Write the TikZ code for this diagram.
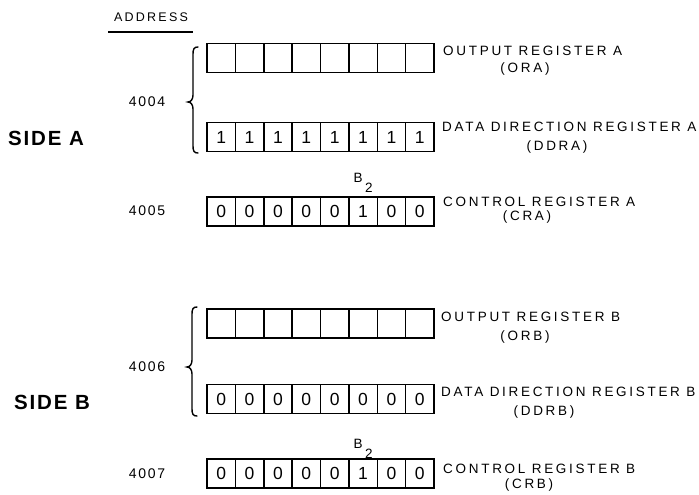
\documentclass[tikz,border=0pt]{standalone}
\usepackage{fontspec}
\setmainfont{Liberation Sans}
\newfontfamily\lblfont[LetterSpace=20]{Liberation Sans}
\newfontfamily\addrfont[LetterSpace=18]{Liberation Sans}
\newfontfamily\numfont[LetterSpace=12]{Liberation Sans}
\newfontfamily\cellfont{Liberation Sans}
\newfontfamily\sidefont[LetterSpace=9]{Liberation Sans}
\newcommand\regrow[3]{%
  \foreach \v [count=\i] in {#3} {
    \node[cell] (#1-\i) at ({221.2+(\i-1)*28.375}, #2) {\v};
  }%
}
\newcommand\bracepath[4]{% x-end, top, tip, bottom
  \draw[brace] (#1,#2) .. controls (#1-4,#2) and (#1-5,#2+2) .. (#1-5,#2+7)
    -- (#1-5,#3-7) .. controls (#1-5,#3-3) and (#1-7,#3) .. (#1-10,#3)
    .. controls (#1-7,#3) and (#1-5,#3+3) .. (#1-5,#3+7)
    -- (#1-5,#4-7) .. controls (#1-5,#4-2) and (#1-4,#4) .. (#1,#4);
}
\begin{document}
\begin{tikzpicture}[x=1pt,y=-1pt,
  cell/.style={draw, line width=1.5pt, minimum width=28.4pt, minimum height=29pt,
    inner sep=0pt, font=\cellfont\fontsize{17.5}{17.5}\selectfont},
  lbl/.style={anchor=west, inner sep=0pt, font=\lblfont\fontsize{13.5}{13.5}\selectfont},
  abbr/.style={inner sep=0pt, font=\lblfont\fontsize{13.5}{13.5}\selectfont},
  addr/.style={inner sep=0pt, font=\numfont\fontsize{14}{14}\selectfont},
  head/.style={inner sep=0pt, font=\addrfont\fontsize{12.5}{12.5}\selectfont},
  side/.style={inner sep=0pt, anchor=west, font=\sidefont\bfseries\fontsize{20.5}{20.5}\selectfont},
  brace/.style={line width=1.4pt, line cap=round},
  uline/.style={line width=1.3pt}]
\useasboundingbox (0,0) rectangle (699,495);

% header
\node[head] (address) at (151,17) {ADDRESS};
\coordinate (ul-l) at (108,32);
\coordinate (ul-r) at (193,32);
\draw[uline] (ul-l) -- (ul-r);

% side labels
\node[side] (sidea) at (8,138) {SIDE A};
\node[side] (sideb) at (14,402) {SIDE B};

% addresses
\node[addr] (a4004) at (147,102) {4004};
\node[addr] (a4005) at (147,211) {4005};
\node[addr] (a4006) at (147,367) {4006};
\node[addr] (a4007) at (147,474) {4007};

% braces
\bracepath{198}{47}{102}{153}
\bracepath{197}{307}{367}{416}

% registers
\regrow{ora}{58}{{},{},{},{},{},{},{},{}}
\regrow{ddra}{137}{1,1,1,1,1,1,1,1}
\regrow{cra}{211.5}{0,0,0,0,0,1,0,0}
\regrow{orb}{323.5}{{},{},{},{},{},{},{},{}}
\regrow{ddrb}{399}{0,0,0,0,0,0,0,0}
\regrow{crb}{473.5}{0,0,0,0,0,1,0,0}

% B2 labels
\node[abbr] (b2a) at (358,178) {B};
\node[abbr] (b2a-sub) at (369,188) {2};
\node[abbr] (b2b) at (358,444) {B};
\node[abbr] (b2b-sub) at (369,454) {2};

% register names
\node[lbl] (lbl-ora) at (443,51) {OUTPUT REGISTER A};
\node[abbr] (abbr-ora) at (525,69) {(ORA)};
\node[lbl] (lbl-ddra) at (442,127) {DATA DIRECTION REGISTER A};
\node[abbr] (abbr-ddra) at (557,147) {(DDRA)};
\node[lbl] (lbl-cra) at (443,202) {CONTROL REGISTER A};
\node[abbr] (abbr-cra) at (527,217) {(CRA)};
\node[lbl] (lbl-orb) at (441,317) {OUTPUT REGISTER B};
\node[abbr] (abbr-orb) at (525,337) {(ORB)};
\node[lbl] (lbl-ddrb) at (441,392) {DATA DIRECTION REGISTER B};
\node[abbr] (abbr-ddrb) at (544,412) {(DDRB)};
\node[lbl] (lbl-crb) at (443,469) {CONTROL REGISTER B};
\node[abbr] (abbr-crb) at (529,485) {(CRB)};
\end{tikzpicture}
\end{document}
